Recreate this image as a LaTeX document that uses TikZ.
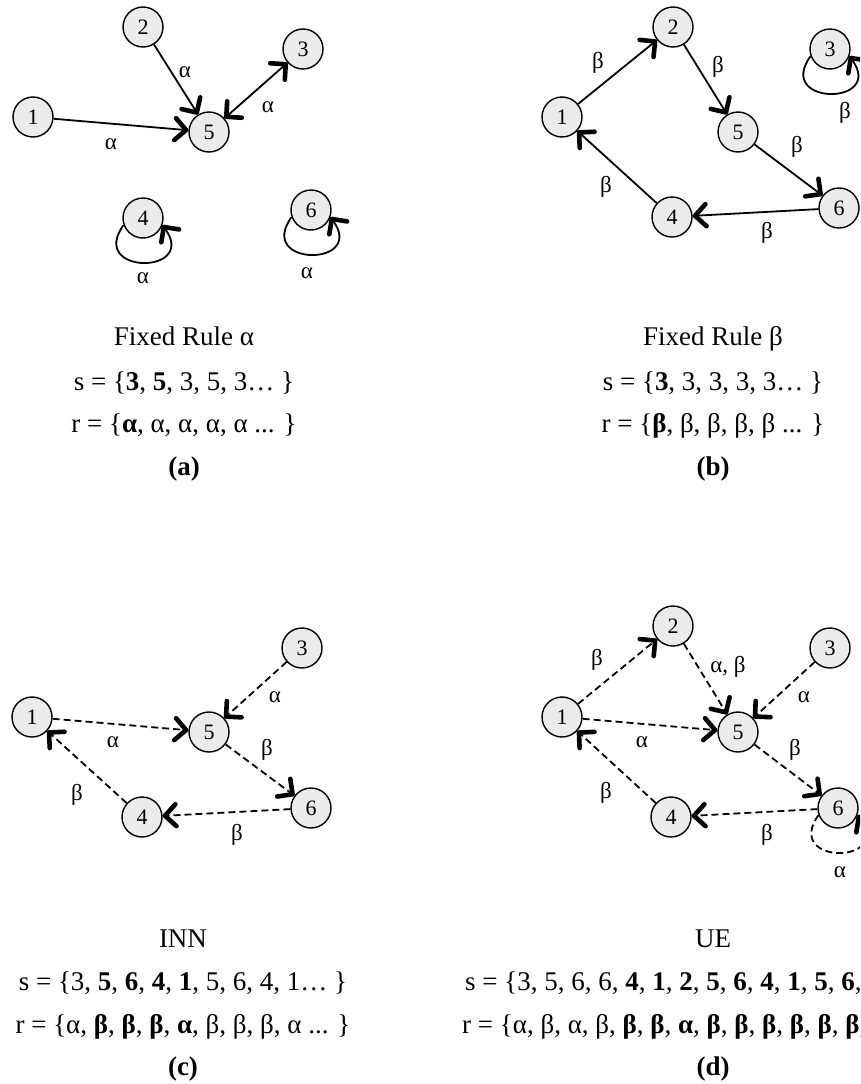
\documentclass[tikz,border=0pt]{standalone}
\usepackage{fontspec}
\setmainfont{Liberation Serif}
\usetikzlibrary{arrows.meta}
\begin{document}
\begin{tikzpicture}[x=1pt,y=-1pt,
  >={Straight Barb[length=11pt,width=22pt,line width=4.6pt 0,round]},
  st/.style={circle,draw,line width=1.4pt,fill=black!8,minimum size=40pt,inner sep=0pt,font=\fontsize{22}{24}\selectfont},
  lab/.style={font=\fontsize{23}{26}\selectfont,inner sep=0pt},
  captxt/.style={font=\fontsize{27}{30}\selectfont,anchor=base,inner sep=0pt},
  ln/.style={line width=1.8pt},
  dl/.style={ln,dash pattern=on 7pt off 4pt},
]
\clip (0,0) rectangle (860,1084);
\fill[white] (0,0) rectangle (860,1084);

% ---------- panel (a)
\node[st] (a1) at (33,117) {1};
\node[st] (a2) at (143,27) {2};
\node[st] (a3) at (303,49) {3};
\node[st] (a5) at (209,132) {5};
\node[st] (a4) at (143,218) {4};
\node[st] (a6) at (311,210) {6};
\draw[ln,->] (a1) -- (a5);
\draw[ln,->] (a2) -- (a5);
\draw[ln,<->] (a5) -- (a3);
\draw[ln,->] (a4.200) .. controls +(-36,50) and +(36,50) .. (a4.-20);
\draw[ln,->] (a6.200) .. controls +(-36,50) and +(36,50) .. (a6.-20);
\node[lab] (la15) at (111,144) {α};
\node[lab] (la25) at (185,72) {α};
\node[lab] (la35) at (268,107) {α};
\node[lab] (la44) at (143,278) {α};
\node[lab] (la66) at (307,273) {α};
\node[captxt] (ta1) at (184,345) {Fixed Rule α};
\node[captxt] (ta2) at (184,390) {s = \{\textbf{3}, \textbf{5}, 3, 5, 3… \}};
\node[captxt] (ta3) at (184,432) {r = \{\textbf{α}, α, α, α, α ... \}};
\node[captxt] (ta4) at (184,475) {\textbf{(a)}};

% ---------- panel (b)
\node[st] (b1) at (562,117) {1};
\node[st] (b2) at (673,27) {2};
\node[st] (b3) at (830,49) {3};
\node[st] (b5) at (738,132) {5};
\node[st] (b4) at (672,217) {4};
\node[st] (b6) at (839,208) {6};
\draw[ln,->] (b1) -- (b2);
\draw[ln,->] (b2) -- (b5);
\draw[ln,->] (b5) -- (b6);
\draw[ln,->] (b6) -- (b4);
\draw[ln,->] (b4) -- (b1);
\draw[ln,->] (b3.200) .. controls +(-36,50) and +(36,50) .. (b3.-20);
\node[lab] (lb12) at (598,63) {β};
\node[lab] (lb25) at (718,67) {β};
\node[lab] (lb56) at (797,147) {β};
\node[lab] (lb64) at (767,233) {β};
\node[lab] (lb41) at (606,187) {β};
\node[lab] (lb33) at (845,113) {β};
\node[captxt] (tb1) at (713,345) {Fixed Rule β};
\node[captxt] (tb2) at (713,390) {s = \{\textbf{3}, 3, 3, 3, 3… \}};
\node[captxt] (tb3) at (713,432) {r = \{\textbf{β}, β, β, β, β ... \}};
\node[captxt] (tb4) at (713,475) {\textbf{(b)}};

% ---------- panel (c)
\node[st] (c3) at (302,648) {3};
\node[st] (c1) at (32,717) {1};
\node[st] (c5) at (209,732) {5};
\node[st] (c6) at (311,808) {6};
\node[st] (c4) at (142,817) {4};
\draw[dl,->] (c3) -- (c5);
\draw[dl,->] (c1) -- (c5);
\draw[dl,->] (c5) -- (c6);
\draw[dl,->] (c6) -- (c4);
\draw[dl,->] (c4) -- (c1);
\node[lab] (lc35) at (275,697) {α};
\node[lab] (lc15) at (113,742) {α};
\node[lab] (lc56) at (267,750) {β};
\node[lab] (lc41) at (77,795) {β};
\node[lab] (lc64) at (237,835) {β};
\node[captxt] (tc1) at (183,947) {INN};
\node[captxt] (tc2) at (183,990) {s = \{3, \textbf{5}, \textbf{6}, \textbf{4}, \textbf{1}, 5, 6, 4, 1… \}};
\node[captxt] (tc3) at (183,1033) {r = \{α, \textbf{β}, \textbf{β}, \textbf{β}, \textbf{α}, β, β, β, α ... \}};
\node[captxt] (tc4) at (183,1075) {\textbf{(c)}};

% ---------- panel (d)
\node[st] (d2) at (673,626) {2};
\node[st] (d3) at (830,648) {3};
\node[st] (d1) at (562,717) {1};
\node[st] (d5) at (738,732) {5};
\node[st] (d6) at (838,808) {6};
\node[st] (d4) at (671,817) {4};
\draw[dl,->] (d1) -- (d2);
\draw[dl,->] (d2) -- (d5);
\draw[dl,->] (d3) -- (d5);
\draw[dl,->] (d1) -- (d5);
\draw[dl,->] (d5) -- (d6);
\draw[dl,->] (d6) -- (d4);
\draw[dl,->] (d4) -- (d1);
\draw[dl,->] (d6.200) .. controls +(-36,50) and +(36,50) .. (d6.-20);
\node[lab] (ld12) at (597,660) {β};
\node[lab] (ld25) at (728,667) {α, β};
\node[lab] (ld35) at (804,697) {α};
\node[lab] (ld15) at (642,742) {α};
\node[lab] (ld56) at (795,750) {β};
\node[lab] (ld41) at (606,793) {β};
\node[lab] (ld64) at (767,835) {β};
\node[lab] (ld66) at (840,872) {α};
\node[captxt] (td1) at (713,947) {UE};
\node[captxt,anchor=base west] (td2) at (465,990) {s = \{3, 5, 6, 6, \textbf{4}, \textbf{1}, \textbf{2}, \textbf{5}, \textbf{6}, \textbf{4}, \textbf{1}, \textbf{5}, \textbf{6}, \textbf{4}, \textbf{1}… \}};
\node[captxt,anchor=base west] (td3) at (462,1033) {r = \{α, β, α, β, \textbf{β}, \textbf{β}, \textbf{α}, \textbf{β}, \textbf{β}, \textbf{β}, \textbf{β}, \textbf{β}, \textbf{β}, \textbf{β} ... \}};
\node[captxt] (td4) at (713,1075) {\textbf{(d)}};
\end{tikzpicture}
\end{document}
